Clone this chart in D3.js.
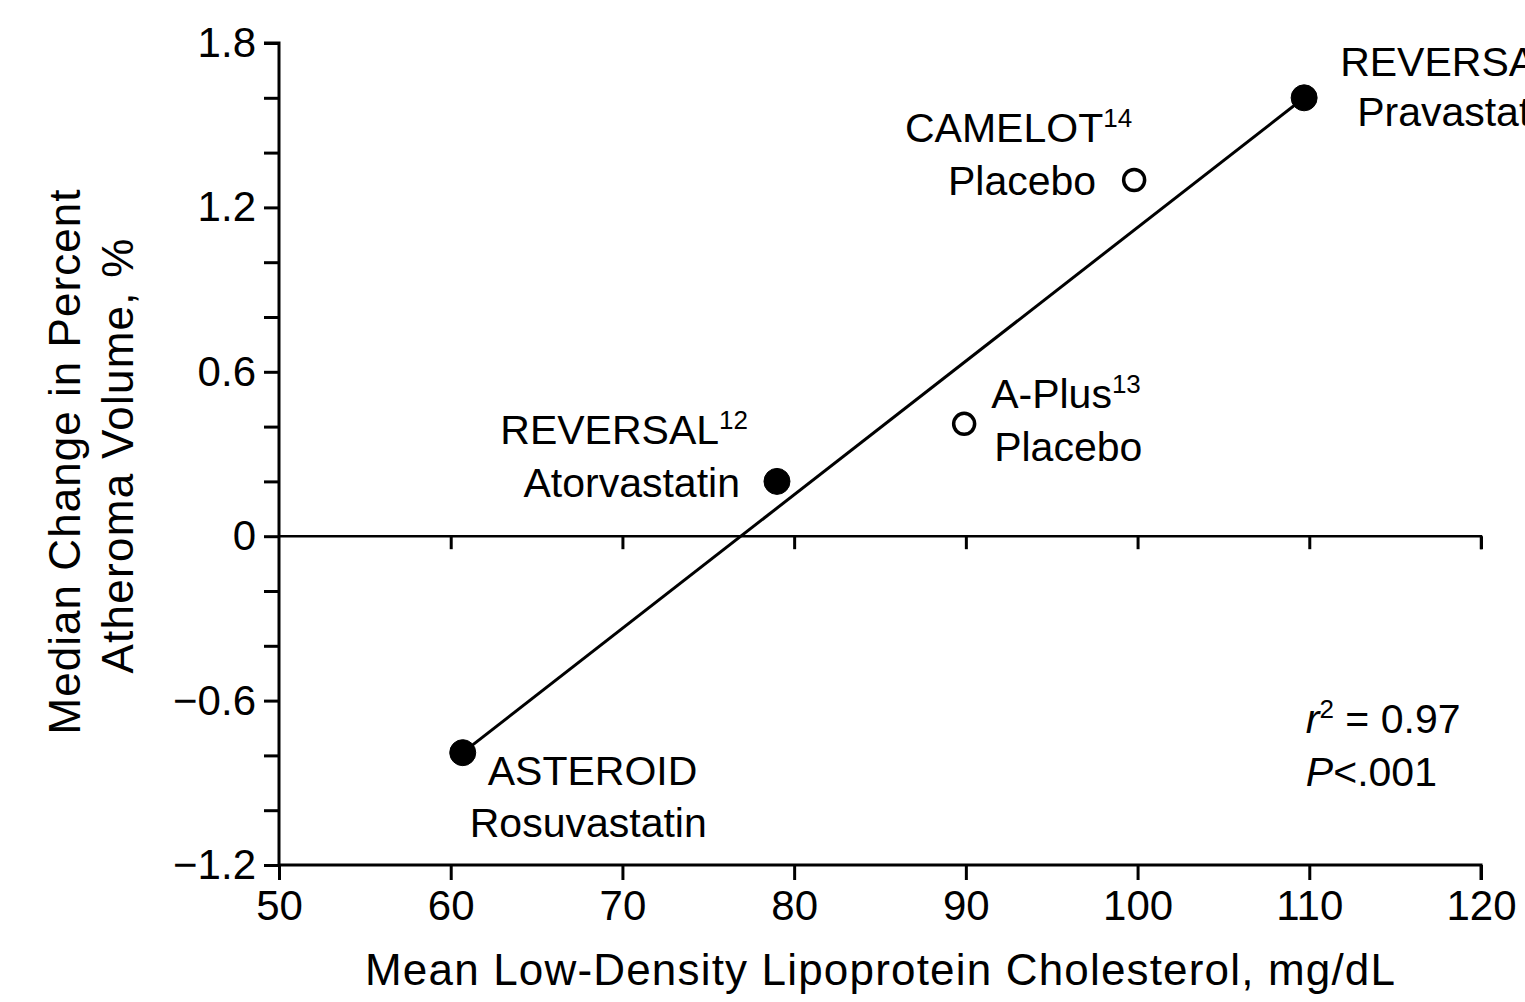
<!DOCTYPE html>
<html><head><meta charset="utf-8">
<script src="https://cdn.jsdelivr.net/npm/d3@7"></script>
<style>
html,body{margin:0;padding:0;background:#fff;overflow:hidden}
svg{display:block;font-family:"Liberation Sans",Arial,sans-serif}
</style></head>
<body>
<script>
// ---- data ----
const studies = ["ASTEROID", "REVERSAL", "A-Plus", "CAMELOT", "REVERSAL"];
const studyRefs = ["", "12", "13", "14", "12"];
const treatments = ["Rosuvastatin", "Atorvastatin", "Placebo", "Placebo", "Pravastatin"];
const ldl = [60.7, 79.0, 89.9, 99.8, 109.7];
const atheromaChange = [-0.79, 0.20, 0.41, 1.30, 1.60];
const filled = [true, true, false, false, true];
const fitX = [60.7, 109.7];
const fitY = [-0.79, 1.60];
const xTicks = [50, 60, 70, 80, 90, 100, 110, 120];
const yTicks = [-1.2, -1.0, -0.8, -0.6, -0.4, -0.2, 0, 0.2, 0.4, 0.6, 0.8, 1.0, 1.2, 1.4, 1.6, 1.8];
const yLabelTicks = [-1.2, -0.6, 0, 0.6, 1.2, 1.8];

// ---- layout ----
const W = 1525, H = 1002;
const L = 279, R = 1481, T = 43, B = 865;
const svg = d3.select("body").append("svg").attr("width", W).attr("height", H);
const x = d3.scaleLinear().domain([50, 120]).range([L, R]);
const y = d3.scaleLinear().domain([-1.2, 1.8]).range([B, T]);

const fmtY = v => v === 0 ? "0" : (v < 0 ? "\u2212" : "") + Math.abs(v).toFixed(1);

// y axis
const yAxis = svg.append("g").attr("transform", `translate(${L},0)`)
  .call(d3.axisLeft(y).tickValues(yTicks).tickSize(15).tickPadding(8)
    .tickFormat(v => yLabelTicks.some(t => Math.abs(t - v) < 1e-9) ? fmtY(v) : ""));
yAxis.select(".domain").attr("d", `M-15,${T}H0V${B}`).attr("stroke-width", 3);
yAxis.selectAll(".tick line").attr("stroke-width", 3);
yAxis.selectAll(".tick text").attr("font-size", 42).attr("fill", "#000").attr("font-family", "Liberation Sans, Arial");

// x axis
const xAxis = svg.append("g").attr("transform", `translate(0,${B})`)
  .call(d3.axisBottom(x).tickValues(xTicks).tickSize(15).tickPadding(10));
xAxis.select(".domain").attr("d", `M${L},0H${R}V15`).attr("stroke-width", 3);
xAxis.selectAll(".tick line").attr("stroke-width", 3);
xAxis.selectAll(".tick text").attr("font-size", 42).attr("fill", "#000").attr("font-family", "Liberation Sans, Arial");

// zero line with ticks
const zeroG = svg.append("g").attr("transform", `translate(0,${y(0)})`)
  .call(d3.axisBottom(x).tickValues(xTicks.slice(1)).tickSize(13).tickFormat(""));
zeroG.select(".domain").attr("d", `M${L},0H${R}V13`).attr("stroke-width", 2.5);
zeroG.selectAll(".tick line").attr("stroke-width", 3);

// regression line
svg.append("line")
  .attr("x1", x(fitX[0])).attr("y1", y(fitY[0]))
  .attr("x2", x(fitX[1])).attr("y2", y(fitY[1]))
  .attr("stroke", "#000").attr("stroke-width", 3);

// points
const pts = ldl.map((v, i) => ({x: v, y: atheromaChange[i], f: filled[i], s: studies[i], r: studyRefs[i], t: treatments[i]}));
svg.selectAll("circle.pt").data(pts).join("circle")
  .attr("class", "pt")
  .attr("cx", d => x(d.x)).attr("cy", d => y(d.y))
  .attr("r", d => d.f ? 13 : 10.5)
  .attr("fill", d => d.f ? "#000" : "#fff")
  .attr("stroke", "#000").attr("stroke-width", d => d.f ? 1 : 3.5);

// labels: offsets relative to point pixel
const labelLayout = [
  {a: "start", dx1: 25, dy1: 32, dx2: 7, dy2: 84},
  {a: "end", dx1: -29, dy1: -37, dx2: -37, dy2: 16},
  {a: "start", dx1: 27, dy1: -16, dx2: 30, dy2: 37},
  {a: "end", dx1: -2, dy1: -38, dx2: -38, dy2: 15},
  {a: "start", dx1: 36, dy1: -22, dx2: 53, dy2: 28}
];
const FS = 41;
pts.forEach((d, i) => {
  const lo = labelLayout[i];
  const px = x(d.x), py = y(d.y);
  const t1 = svg.append("text").attr("x", px + lo.dx1).attr("y", py + lo.dy1)
    .attr("text-anchor", lo.a).attr("font-size", FS).attr("fill", "#000");
  t1.append("tspan").text(d.s);
  if (d.r) t1.append("tspan").attr("font-size", 26).attr("dy", -15).text(d.r);
  svg.append("text").attr("x", px + lo.dx2).attr("y", py + lo.dy2)
    .attr("text-anchor", lo.a).attr("font-size", FS).attr("fill", "#000").text(d.t);
});

// stats
const st1 = svg.append("text").attr("x", x(109.8)).attr("y", y(-0.72)).attr("font-size", FS);
st1.append("tspan").attr("font-style", "italic").text("r");
st1.append("tspan").attr("font-size", 26).attr("dy", -15).text("2");
st1.append("tspan").attr("dy", 15).text(" = 0.97");
const st2 = svg.append("text").attr("x", x(109.8)).attr("y", y(-0.91)).attr("font-size", FS);
st2.append("tspan").attr("font-style", "italic").text("P");
st2.append("tspan").text("<.001");

// axis titles
svg.append("text").attr("x", (L + R) / 2).attr("y", 985).attr("text-anchor", "middle")
  .attr("font-size", 44).attr("textLength", 1030).attr("lengthAdjust", "spacing")
  .text("Mean Low-Density Lipoprotein Cholesterol, mg/dL");
svg.append("text").attr("transform", `translate(80,${(T + B) / 2 + 8}) rotate(-90)`).attr("text-anchor", "middle")
  .attr("font-size", 44).attr("textLength", 545).attr("lengthAdjust", "spacing")
  .text("Median Change in Percent");
svg.append("text").attr("transform", `translate(133,${(T + B) / 2 + 2}) rotate(-90)`).attr("text-anchor", "middle")
  .attr("font-size", 44).attr("textLength", 435).attr("lengthAdjust", "spacing")
  .text("Atheroma Volume, %");
</script>
</body></html>
